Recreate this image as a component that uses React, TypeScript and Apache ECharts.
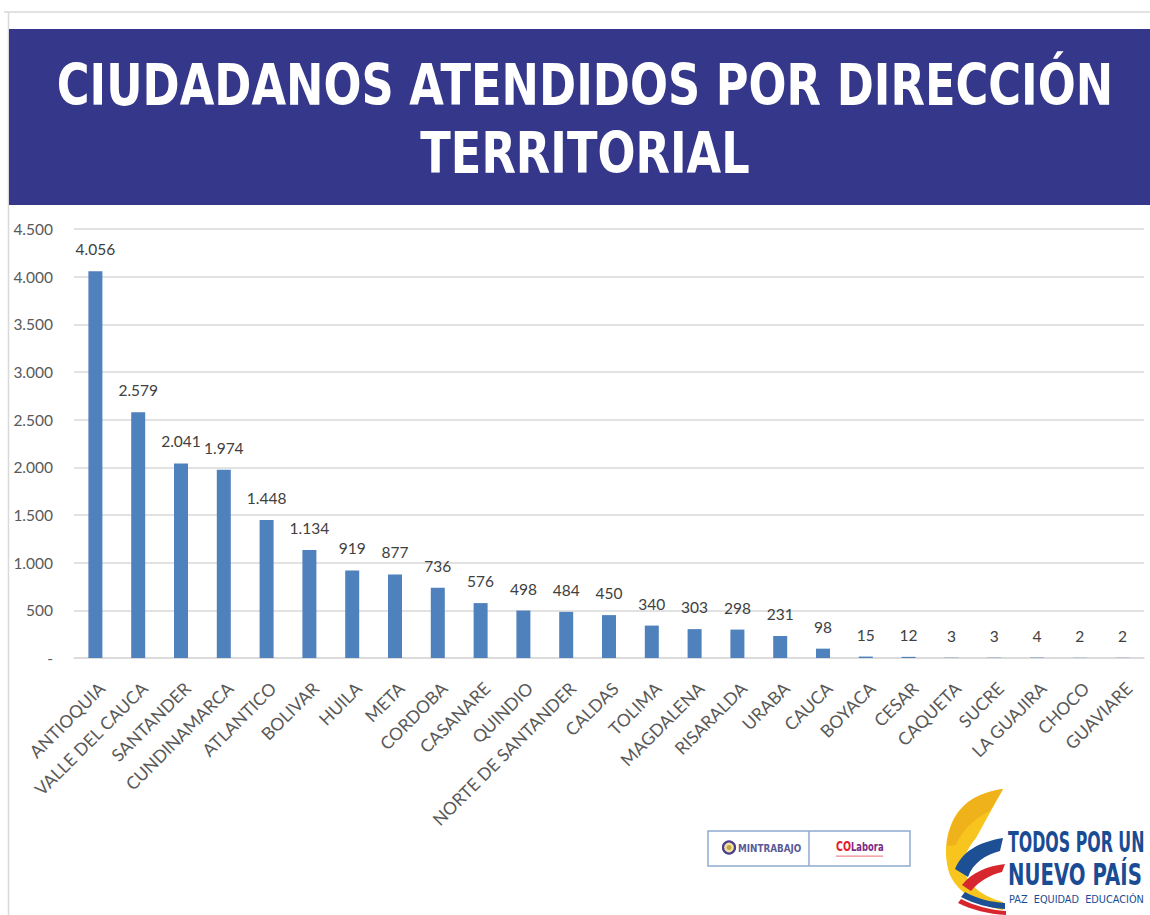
import React, { useEffect, useRef } from "react";
import * as echarts from "echarts";

const categories = [
  "ANTIOQUIA", "VALLE DEL CAUCA", "SANTANDER", "CUNDINAMARCA", "ATLANTICO",
  "BOLIVAR", "HUILA", "META", "CORDOBA", "CASANARE", "QUINDIO",
  "NORTE DE SANTANDER", "CALDAS", "TOLIMA", "MAGDALENA", "RISARALDA",
  "URABA", "CAUCA", "BOYACA", "CESAR", "CAQUETA", "SUCRE", "LA GUAJIRA",
  "CHOCO", "GUAVIARE",
];
const values = [
  4056, 2579, 2041, 1974, 1448, 1134, 919, 877, 736, 576, 498, 484, 450,
  340, 303, 298, 231, 98, 15, 12, 3, 3, 4, 2, 2,
];
const yMin = 0;
const yMax = 4500;
const yInterval = 500;
const titleLines = ["CIUDADANOS ATENDIDOS POR DIRECCIÓN", "TERRITORIAL"];
const logoTexts = ["TODOS POR UN", "NUEVO PAÍS", "PAZ  EQUIDAD  EDUCACIÓN"];
const partnerTexts = ["MINTRABAJO", "CO", "Labora"];

const fmt = (v: number) =>
  v === 0 ? "-" : String(v).replace(/\B(?=(\d{3})+(?!\d))/g, ".");

const SHAPES: Record<string, string> = {
  swYellow:
    "M1003 789 L976 838 C966 850 961 862 965 874 C971 888 985 897 1003 902 L1003 910 C980 906 958 893 950 875 C943 855 945 830 958 812 C970 798 985 791 1003 789 Z",
  swYellowDark:
    "M1003 789 L990 811 C975 818 962 830 956 845 L947 846 C948 828 956 812 968 802 C978 795 990 791 1003 789 Z",
  swBlue:
    "M1003 838 L1000 851 C985 855 973 863 968 877 L955 869 C962 852 978 842 1003 838 Z",
  swBlue2:
    "M965 892 C978 899 990 902 1005 903 L1005 909 C988 908 975 904 961 897 Z",
  swRed:
    "M1005 864 L1002 872 C990 875 979 881 971 891 L962 885 C972 872 988 866 1005 864 Z",
  swRed2:
    "M961 899 C975 906 990 910 1006 911 L1006 915 C988 914 972 910 958 903 Z",
};
let registered = false;
function registerShapes() {
  if (registered) return;
  registered = true;
  Object.keys(SHAPES).forEach((k) => {
    echarts.graphic.registerShape(k, echarts.graphic.extendPath(SHAPES[k], {}));
  });
}

export default function App() {
  const ref = useRef<HTMLDivElement>(null);
  useEffect(() => {
    if (!ref.current) return;
    registerShapes();
    const chart = echarts.init(ref.current, null, { renderer: "svg" });
    const numFont = "Lato, 'Open Sans', sans-serif";
    chart.setOption({
      animation: false,
      backgroundColor: "#ffffff",
      grid: { left: 74, right: 6, top: 229, bottom: 257, containLabel: false },
      xAxis: {
        type: "category",
        data: categories,
        axisLine: { show: true, lineStyle: { color: "#D9D9D9", width: 1.5 } },
        axisTick: { show: false },
        axisLabel: {
          interval: 0,
          rotate: 45,
          margin: 21,
          align: "right",
          verticalAlign: "top",
          color: "#595959",
          fontFamily: numFont,
          fontSize: 17.5,
        },
      },
      yAxis: {
        type: "value",
        min: yMin,
        max: yMax,
        interval: yInterval,
        axisLine: { show: false },
        axisTick: { show: false },
        splitLine: { lineStyle: { color: "#D9D9D9", width: 1.5 } },
        axisLabel: {
          margin: 21,
          color: "#595959",
          fontFamily: numFont,
          fontSize: 15.5,
          formatter: (v: number) => fmt(v),
        },
      },
      series: [
        {
          type: "bar",
          data: values,
          barWidth: 14,
          itemStyle: { color: "#4F81BD" },
          label: {
            show: true,
            position: "top",
            distance: 14,
            color: "#404040",
            fontFamily: numFont,
            fontSize: 15.5,
            formatter: (p: any) => fmt(p.value),
          },
        },
      ],
      graphic: [
        { type: "line", shape: { x1: 4, y1: 12, x2: 1150, y2: 12 }, style: { stroke: "#D9D9D9", lineWidth: 1.5 }, silent: true },
        { type: "line", shape: { x1: 8.5, y1: 12, x2: 8.5, y2: 915 }, style: { stroke: "#D9D9D9", lineWidth: 1.5 }, silent: true },
        { type: "rect", shape: { x: 9, y: 29, width: 1141, height: 176 }, style: { fill: "#35378A" }, silent: true },
        {
          type: "text", x: 585, y: 85, scaleX: 0.785,
          style: { text: titleLines[0], fill: "#ffffff", font: "bold 57px 'DejaVu Sans', sans-serif", align: "center", verticalAlign: "middle" },
        },
        {
          type: "text", x: 585, y: 153, scaleX: 0.785,
          style: { text: titleLines[1], fill: "#ffffff", font: "bold 57px 'DejaVu Sans', sans-serif", align: "center", verticalAlign: "middle" },
        },
        // partner box
        { type: "rect", shape: { x: 708, y: 831, width: 202, height: 35 }, style: { fill: "#ffffff", stroke: "#8FAAD0", lineWidth: 1.5 } },
        { type: "line", shape: { x1: 809, y1: 831, x2: 809, y2: 866 }, style: { stroke: "#8FAAD0", lineWidth: 1.5 } },
        { type: "circle", shape: { cx: 729, cy: 847.5, r: 6 }, style: { fill: "#F1E3A6", stroke: "#4B3D8F", lineWidth: 2.2 } },
        { type: "circle", shape: { cx: 729, cy: 847.5, r: 2.5 }, style: { fill: "#C9A640" } },
        {
          type: "text", x: 738, y: 848, scaleX: 0.8,
          style: { text: partnerTexts[0], fill: "#5A5A96", font: "bold 11px 'DejaVu Sans', sans-serif", align: "left", verticalAlign: "middle" },
        },
        {
          type: "text", x: 836, y: 846, scaleX: 0.68,
          style: { text: partnerTexts[1], fill: "#E31E2D", font: "bold 14px 'DejaVu Sans', sans-serif", align: "left", verticalAlign: "middle" },
        },
        {
          type: "text", x: 851, y: 846.5, scaleX: 0.7,
          style: { text: partnerTexts[2], fill: "#7A2B86", font: "bold 12px 'DejaVu Sans', sans-serif", align: "left", verticalAlign: "middle" },
        },
        { type: "rect", shape: { x: 836, y: 855.5, width: 47, height: 1.2 }, style: { fill: "#F08A8F" } },
        // swoosh
        { type: "swYellow", x: 0, y: 0, style: { fill: "#F7C51E" } },
        { type: "swYellowDark", x: 0, y: 0, style: { fill: "#F0B21A" } },
        { type: "swBlue2", x: 0, y: 0, style: { fill: "#1D4F95" } },
        { type: "swRed2", x: 0, y: 0, style: { fill: "#D8262F" } },
        { type: "swBlue", x: 0, y: 0, style: { fill: "#1D4F95" } },
        { type: "swRed", x: 0, y: 0, style: { fill: "#D8262F" } },
        {
          type: "text", x: 1008, y: 842.5, scaleX: 0.575,
          style: { text: logoTexts[0], fill: "#1A4C94", font: "bold 27.5px 'DejaVu Sans', sans-serif", align: "left", verticalAlign: "middle" },
        },
        {
          type: "text", x: 1008, y: 874.5, scaleX: 0.657,
          style: { text: logoTexts[1], fill: "#1A4C94", font: "bold 30px 'DejaVu Sans', sans-serif", align: "left", verticalAlign: "middle" },
        },
        {
          type: "text", x: 1009, y: 899, scaleX: 0.886,
          style: { text: logoTexts[2], fill: "#1A4C94", font: "11px 'DejaVu Sans', sans-serif", align: "left", verticalAlign: "middle" },
        },
      ],
    });
    return () => chart.dispose();
  }, []);
  return (
    <div
      ref={ref}
      style={{ position: "fixed", left: 0, top: 0, width: 1150, height: 915 }}
    />
  );
}
